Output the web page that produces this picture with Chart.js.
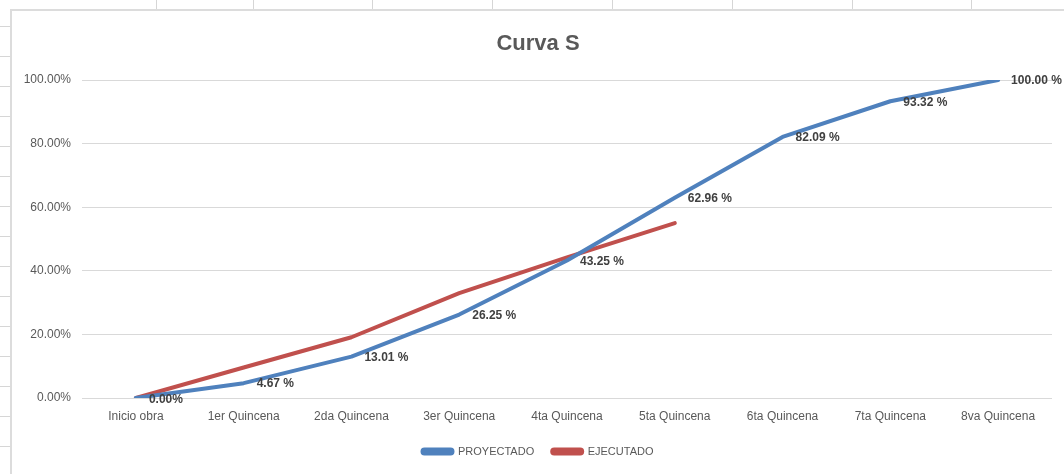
<!DOCTYPE html>
<html>
<head>
<meta charset="utf-8">
<script src="https://cdn.jsdelivr.net/npm/chart.js@4.4.1/dist/chart.umd.min.js"></script>
<style>
  html, body { margin: 0; padding: 0; background: #fff; }
  #page { position: relative; width: 1064px; height: 474px; overflow: hidden; background: #fff; }
  .vl { position: absolute; top: 0; height: 9px; width: 1px; background: #d6d6d6; }
  .hl { position: absolute; left: 0; width: 10px; height: 1px; background: #d6d6d6; }
  #frameL { position: absolute; left: 10px; top: 9px; width: 2px; height: 465px; background: #dcdcdc; }
  #frameT { position: absolute; left: 10px; top: 9px; height: 2px; width: 1054px; background: #dcdcdc; }
  #wrap { position: absolute; left: 12px; top: 11px; width: 1052px; height: 463px; }
</style>
</head>
<body>
<div id="page">
  <div id="frameL"></div>
  <div id="frameT"></div>
  <div id="wrap"><canvas id="c"></canvas></div>
</div>
<script>
// ---- data ----
const categories = ['Inicio obra', '1er Quincena', '2da Quincena', '3er Quincena', '4ta Quincena', '5ta Quincena', '6ta Quincena', '7ta Quincena', '8va Quincena'];
const proyectado = [0, 4.67, 13.01, 26.25, 43.25, 62.96, 82.09, 93.32, 100];
const ejecutado = [0, 9.6, 19.1, 33.0, 44.2, 55.0, null, null, null];
const proyectadoLabels = ['0.00%', '4.67 %', '13.01 %', '26.25 %', '43.25 %', '62.96 %', '82.09 %', '93.32 %', '100.00 %'];
const seriesNames = ['PROYECTADO', 'EJECUTADO'];
const titleText = 'Curva S';

// ---- spreadsheet background decoration ----
const page = document.getElementById('page');
[156, 253, 372, 492, 612, 732, 852, 971].forEach(x => {
  const d = document.createElement('div'); d.className = 'vl'; d.style.left = x + 'px'; page.appendChild(d);
});
for (let y = 26; y < 474; y += 30) {
  const d = document.createElement('div'); d.className = 'hl'; d.style.top = y + 'px'; page.appendChild(d);
}

const FONT = "'Liberation Sans', Arial, sans-serif";

const dataLabelPlugin = {
  id: 'dataLabels',
  afterDatasetsDraw(chart) {
    const meta = chart.getDatasetMeta(0);
    const ctx = chart.ctx;
    ctx.save();
    ctx.font = "bold 12px " + FONT;
    ctx.fillStyle = '#404040';
    ctx.textAlign = 'left';
    ctx.textBaseline = 'middle';
    meta.data.forEach((pt, i) => {
      ctx.fillText(proyectadoLabels[i], pt.x + 13, pt.y + (i === 0 ? 2 : 1));
    });
    ctx.restore();
  }
};

new Chart(document.getElementById('c'), {
  type: 'line',
  data: {
    labels: categories,
    datasets: [
      { label: seriesNames[0], data: proyectado, borderColor: '#4F81BD', backgroundColor: '#4F81BD',
        borderWidth: 4, pointRadius: 0, tension: 0, borderCapStyle: 'round', borderJoinStyle: 'round' },
      { label: seriesNames[1], data: ejecutado, borderColor: '#C0504D', backgroundColor: '#C0504D',
        borderWidth: 4, pointRadius: 0, tension: 0, borderCapStyle: 'round', borderJoinStyle: 'round', spanGaps: false }
    ]
  },
  options: {
    responsive: true,
    maintainAspectRatio: false,
    animation: false,
    layout: { padding: { left: 0, right: 0, top: 0, bottom: 7 } },
    plugins: {
      title: {
        display: true, text: titleText, color: '#595959',
        font: { family: FONT, size: 22, weight: 'bold' },
        padding: { top: 20, bottom: 22.6 }
      },
      legend: {
        position: 'bottom',
        labels: {
          color: '#595959', font: { family: FONT, size: 11 },
          boxWidth: 30, boxHeight: 4, padding: 18,
          useBorderRadius: true, borderRadius: 2
        }
      },
      tooltip: { enabled: false }
    },
    scales: {
      x: {
        offset: true,
        grid: { display: false, drawTicks: false },
        border: { display: false },
        ticks: { color: '#595959', font: { family: FONT, size: 12 }, padding: 11, maxRotation: 0, autoSkip: false },
        afterFit(s) { s.height = 30; }
      },
      y: {
        min: 0, max: 100,
        grid: { color: '#d9d9d9', lineWidth: 1, drawTicks: false },
        border: { display: false },
        ticks: { stepSize: 20, color: '#595959', font: { family: FONT, size: 12 }, padding: 11,
          callback: v => v.toFixed(2) + '%' },
        afterFit(s) { s.width = 70; }
      },
      yRight: {
        position: 'right',
        min: 0, max: 100,
        grid: { display: false, drawTicks: false },
        border: { display: false },
        ticks: { display: false },
        afterFit(s) { s.width = 12; }
      }
    }
  },
  plugins: [dataLabelPlugin]
});
</script>
</body>
</html>
